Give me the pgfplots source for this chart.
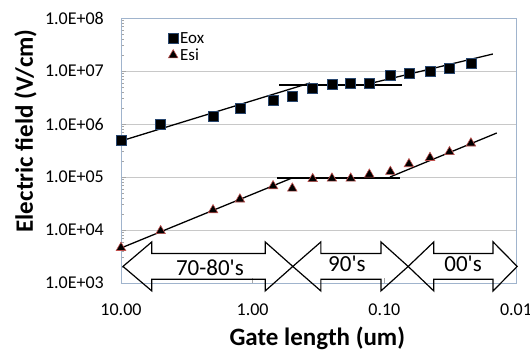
\documentclass[border=0pt]{standalone}
\usepackage{pgfplots}
\pgfplotsset{compat=1.18}
\usepackage{fontspec}
\setmainfont{Carlito}
\newfontfamily\plainfont{Carlito}
\definecolor{framec}{RGB}{160,180,205}
\definecolor{gridc}{RGB}{200,200,200}
\definecolor{esiedge}{RGB}{192,80,77}
\definecolor{eoxedge}{RGB}{40,70,110}
\begin{document}
\begin{tikzpicture}
\begin{axis}[
  at={(0pt,0pt)}, anchor=south west,
  scale only axis, width=395pt, height=265pt,
  xmode=log, ymode=log, x dir=reverse,
  xmin=0.01, xmax=10, ymin=1e3, ymax=1e8,
  xtick={10,1,0.1,0.01}, xticklabels={10.00,1.00,0.10,0.01},
  ytick={1e3,1e4,1e5,1e6,1e7,1e8},
  yticklabels={1.0E+03,1.0E+04,1.0E+05,1.0E+06,1.0E+07,1.0E+08},
  ymajorgrids, major grid style={draw=gridc, line width=0.8pt},
  axis line style={draw=framec, line width=0.8pt},
  tick pos=left, tick align=inside,
  tick style={draw=gray!70, line width=0.5pt},
  major tick length=5pt, minor tick length=3pt,
  tick label style={font=\fontsize{18}{20}\selectfont},
  yticklabel style={anchor=east, inner sep=0pt, xshift=-17pt},
  xticklabel style={anchor=base, inner sep=0pt, yshift=-33pt},
  xlabel={Gate length (um)}, ylabel={Electric field (V/cm)},
  label style={font=\bfseries\fontsize{25}{28}\selectfont},
  xlabel style={at={(axis description cs:0.497,-0.234)}, anchor=base},
  ylabel style={at={(axis description cs:-0.2228,0.574)}, anchor=base},
  clip=false,
  legend style={draw=none, fill=none, at={(axis description cs:0.119,0.955)}, anchor=north west,
    font=\fontsize{17}{19}\selectfont, inner sep=0pt, row sep=0pt},
  legend cell align=left,
  legend image code/.code={\draw[#1] plot coordinates {(0pt,0pt)};},
]
% trend lines
\addplot[black, line width=1.3pt, no marks, forget plot] coordinates {(10,4.78e5) (0.367,5.94e6)};
\addplot[black, line width=1.3pt, no marks, forget plot] coordinates {(0.63,5.45e6) (0.0735,5.45e6)};
\addplot[black, line width=1.3pt, no marks, forget plot] coordinates {(0.124,5.94e6) (0.015,2.09e7)};
\addplot[black, line width=1.3pt, no marks, forget plot] coordinates {(10,4.57e3) (0.503,9.56e4)};
\addplot[black, line width=1.3pt, no marks, forget plot] coordinates {(0.653,9.56e4) (0.0762,9.56e4)};
\addplot[black, line width=1.3pt, no marks, forget plot] coordinates {(0.0906,1.0e5) (0.014,6.76e5)};
% data
\addplot[only marks, mark=square*, mark size=5pt, draw=eoxedge, fill=black, line width=0.5pt] coordinates {
 (10,4.84e5) (5,1.0e6) (2,1.41e6) (1.25,1.98e6) (0.7,2.75e6) (0.5,3.27e6)
 (0.35,4.71e6) (0.25,5.6e6) (0.18,6.0e6) (0.13,6.0e6) (0.09,8.3e6)
 (0.065,9.2e6) (0.045,1.01e7) (0.032,1.12e7) (0.022,1.43e7)};
\addlegendentry{Eox}
\addplot[only marks, mark=triangle*, mark size=5.5pt, draw=esiedge, fill=black, line width=0.6pt] coordinates {
 (10,4.63e3) (5,9.6e3) (2,2.38e4) (1.25,3.8e4) (0.7,6.76e4) (0.5,6.1e4)
 (0.35,9.2e4) (0.25,9.4e4) (0.18,9.4e4) (0.13,1.12e5) (0.09,1.26e5)
 (0.065,1.76e5) (0.045,2.31e5) (0.032,2.97e5) (0.022,4.33e5)};
\addlegendentry{Esi}
% era arrows
\draw[black, line width=1.2pt, line join=miter]
  (axis description cs:0.005,0.0625) -- (axis description cs:0.078,0.155) -- (axis description cs:0.078,0.111)
  -- (axis description cs:0.365,0.111) -- (axis description cs:0.365,0.155) -- (axis description cs:0.435,0.0625)
  -- (axis description cs:0.365,-0.030) -- (axis description cs:0.365,0.014) -- (axis description cs:0.078,0.014)
  -- (axis description cs:0.078,-0.030) -- cycle;
\draw[black, line width=1.2pt, line join=miter]
  (axis description cs:0.435,0.0625) -- (axis description cs:0.506,0.155) -- (axis description cs:0.506,0.111)
  -- (axis description cs:0.658,0.111) -- (axis description cs:0.658,0.155) -- (axis description cs:0.727,0.0625)
  -- (axis description cs:0.658,-0.030) -- (axis description cs:0.658,0.014) -- (axis description cs:0.506,0.014)
  -- (axis description cs:0.506,-0.030) -- cycle;
\draw[black, line width=1.2pt, line join=miter]
  (axis description cs:0.727,0.0625) -- (axis description cs:0.792,0.155) -- (axis description cs:0.792,0.111)
  -- (axis description cs:0.942,0.111) -- (axis description cs:0.942,0.155) -- (axis description cs:1.003,0.0625)
  -- (axis description cs:0.942,-0.030) -- (axis description cs:0.942,0.014) -- (axis description cs:0.792,0.014)
  -- (axis description cs:0.792,-0.030) -- cycle;
\node[font=\plainfont\fontsize{23}{26}\selectfont] at (axis description cs:0.225,0.057) {70-80's};
\node[font=\plainfont\fontsize{23}{26}\selectfont] at (axis description cs:0.572,0.072) {90's};
\node[font=\plainfont\fontsize{23}{26}\selectfont] at (axis description cs:0.866,0.072) {00's};
\end{axis}
\pgfresetboundingbox
\useasboundingbox (-121pt,-67pt) rectangle (409pt,283pt);
\end{tikzpicture}
\end{document}
